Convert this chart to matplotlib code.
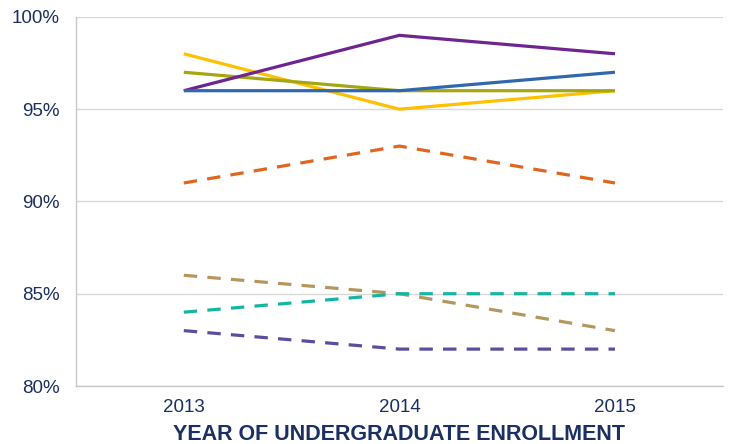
import matplotlib
matplotlib.use("Agg")
import matplotlib.pyplot as plt
import numpy as np

plt.rcParams['font.family'] = ['Liberation Sans', 'DejaVu Sans']

years = ['2013', '2014', '2015']

# solid series
purple = [96, 99, 98]
blue = [96, 96, 97]
olive = [97, 96, 96]
gold = [98, 95, 96]
# dashed series
orange = [91, 93, 91]
tan = [86, 85, 83]
teal = [84, 85, 85]
violet = [83, 82, 82]

navy = '#1B2F63'

fig = plt.figure(figsize=(7.33, 4.44), dpi=100)
ax = fig.add_axes([0.1037, 0.1306, 0.8823, 0.8314])

x = np.arange(len(years))
lw = 2.3
ax.plot(x, gold, color='#FFC000', lw=lw, solid_capstyle='butt')
ax.plot(x, olive, color='#A5A711', lw=lw, solid_capstyle='butt')
ax.plot(x, purple, color='#6E2590', lw=lw, solid_capstyle='butt')
ax.plot(x, blue, color='#2F68AE', lw=lw, solid_capstyle='butt')

ax.plot(x, orange, color='#E0661F', lw=lw, dashes=(4.2, 3.2))
ax.plot(x, tan, color='#B5975D', lw=lw, dashes=(4.2, 3.2))
ax.plot(x, teal, color='#16B5A2', lw=lw, dashes=(4.2, 3.2))
ax.plot(x, violet, color='#5A4F9C', lw=lw, dashes=(4.2, 3.2))

ax.set_xlim(-0.5, 2.5)
ax.set_ylim(80, 100)
ax.set_yticks([80, 85, 90, 95, 100])
ax.set_yticklabels(['80%', '85%', '90%', '95%', '100%'])
ax.set_xticks(x)
ax.set_xticklabels(years)
ax.tick_params(length=0, labelsize=13.5, colors=navy, pad=9)
ax.tick_params(axis='y', pad=12)

ax.grid(axis='y', color='#D9D9D9', lw=1)
ax.set_axisbelow(True)
for s in ['top', 'right']:
    ax.spines[s].set_visible(False)
for s in ['left', 'bottom']:
    ax.spines[s].set_color('#C8C8C8')
    ax.spines[s].set_linewidth(1)

ax.set_xlabel('YEAR OF UNDERGRADUATE ENROLLMENT', fontsize=15.5, fontweight='bold',
              color=navy, labelpad=6)

fig.savefig('out.png', dpi=100)
